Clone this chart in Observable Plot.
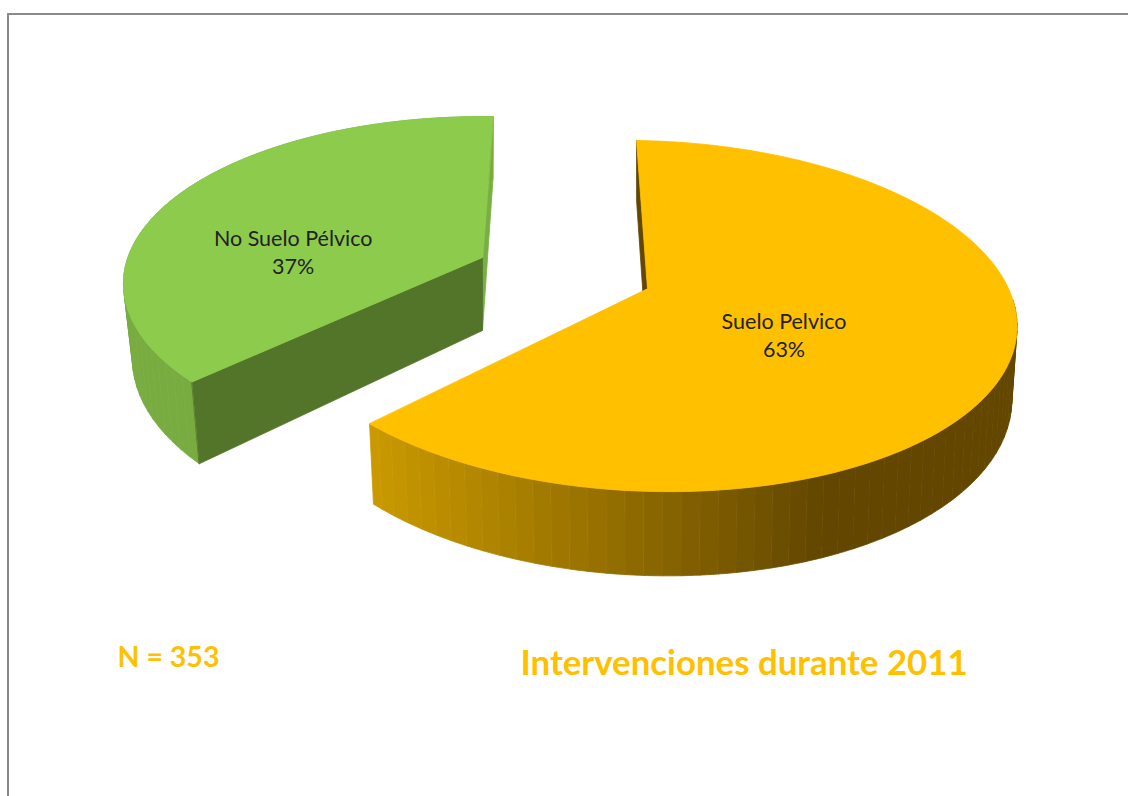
<!DOCTYPE html>
<html>
<head>
<meta charset="utf-8">
<script src="https://cdn.jsdelivr.net/npm/d3@7"></script>
<script src="https://cdn.jsdelivr.net/npm/@observablehq/plot@0.6"></script>
<style>
  html, body { margin: 0; padding: 0; background: #fff; overflow: hidden; }
  #frame { position: absolute; left: 7px; top: 13px; right: -4px; bottom: -4px;
           border-top: 2px solid #8a8a8a; border-left: 2px solid #8a8a8a; pointer-events: none; }
  #chart { position: absolute; left: 0; top: 0; }
  #chart svg { display: block; }
</style>
</head>
<body>
<div id="chart"></div>
<div id="frame"></div>
<script>
// Data
const categories = ["Suelo Pelvico", "No Suelo Pélvico"];
const shares = [63, 37];
const sampleLabel = "N = 353";
const titleLabel = "Intervenciones durante 2011";

// Drawing of each exploded, tilted slice
const geometry = [
  {cx: 647, cy: 288, a: 365, b: 171, k: 0.157, skew: 0.028, depth: 71, taper: 0.986, rotate: -2, startAdjust: 0, endAdjust: -2.5, labelR: 0.39, labelDy: 18},
  {cx: 482, cy: 257, a: 354.6, b: 163, k: 0.157, skew: 0, depth: 73, taper: 0.975, rotate: 2, startAdjust: -1.8, endAdjust: 0, labelR: 0.61, labelDy: 33}
];
const palette = [
  {top: "#ffc000", startFace: "#634700", endFace: null, wallLight: "#cb9a00", wallDark: "#634700"},
  {top: "#8dcb4d", startFace: "#527529", endFace: "#7aae42", wallLight: "#78ac40", wallDark: "#78ac40"}
];

const total = d3.sum(shares);
const rad = Math.PI / 180;
function project(g, theta, r = 1, down = false) {
  const t = (theta + g.rotate) * rad;
  const u = r * Math.sin(t), v = -r * Math.cos(t);
  const d = 1 - g.k * v;
  const x = g.a * u / d, y = g.b * v / d + g.skew * (g.a * u / d);
  if (!down) return [g.cx + x, g.cy + y];
  return [g.cx + x * g.taper, g.cy + y + g.depth / d];
}

// Slice angular spans come from the shares, clockwise from the top
let acc = 0;
const slices = shares.map((s, i) => {
  const g = geometry[i];
  const start = acc / total * 360 + g.startAdjust; acc += s;
  return {i, start, end: acc / total * 360 + g.endAdjust};
});

const polys = [];   // one row per vertex, z = polygon id, order = painter's order
let pid = 0;
function addPoly(points, color) {
  const z = pid++;
  points.forEach(([x, y]) => polys.push({x, y, z, color}));
}
function range(a, b, step) {
  const out = [];
  for (let t = a; t < b; t += step) out.push(t);
  out.push(b);
  return out;
}

// green first, orange on top
[slices[1], slices[0]].forEach(s => {
  const g = geometry[s.i], c = palette[s.i];
  const apex = project(g, 0, 0), apexDown = project(g, 0, 0, true);
  // far cut face (only the green slice shows it)
  if (c.endFace) addPoly([project(g, s.end), apex, apexDown, project(g, s.end, 1, true)], c.endFace);
  // outer wall in shaded bands, front half only
  const colorAt = d3.scaleLinear().domain([g.cx + 175, 368]).range([c.wallDark, c.wallLight]).clamp(true);
  const ts = range(s.start, s.end, 1);
  const bands = range(s.start, s.end, 2.5).filter(t => Math.cos((t + g.rotate) * rad) < 0.02 || t === s.end);
  d3.pairs(bands).forEach(([t0, t1]) => {
    const p0 = project(g, t0), p1 = project(g, t1);
    const arc = range(t0, t1, 0.7);
    addPoly([...arc.map(t => project(g, t)), ...arc.reverse().map(t => project(g, t, 1, true))],
      colorAt((p0[0] + p1[0]) / 2));
  });
  // near cut face
  addPoly([project(g, s.start), apex, apexDown, project(g, s.start, 1, true)], c.startFace);
  // top face
  addPoly([apex, ...ts.map(t => project(g, t))], c.top);
});

const pieLabels = slices.map(s => {
  const g = geometry[s.i];
  const [x, y] = project(g, (s.start + s.end) / 2, g.labelR);
  return {x, y: y + g.labelDy, text: `${categories[s.i]}\n${shares[s.i]}%`};
});

const plot = Plot.plot({
  width: 1128, height: 796,
  margin: 0,
  style: {background: "transparent", overflow: "visible"},
  x: {domain: [0, 1128], range: [0, 1128], axis: null},
  y: {domain: [0, 796], range: [0, 796], axis: null},
  color: {type: "identity"},
  marks: [
    Plot.line(polys, {x: "x", y: "y", z: "z", fill: "color", stroke: "color", strokeWidth: 0.8, curve: "linear-closed"}),
    Plot.text(pieLabels, {x: "x", y: "y", text: "text", fontFamily: "Lato", fontSize: 21.5, fill: "#222", lineHeight: 1.34, lineAnchor: "middle"}),
    Plot.text([{x: 117, y: 657, text: sampleLabel}], {x: "x", y: "y", text: "text", textAnchor: "start", fontFamily: "Lato", fontWeight: 700, fontSize: 28.5, fill: "#ffc000"}),
    Plot.text([{x: 520, y: 663, text: titleLabel}], {x: "x", y: "y", text: "text", textAnchor: "start", fontFamily: "Lato", fontWeight: 700, fontSize: 34.8, fill: "#ffc000"})
  ]
});
document.getElementById("chart").append(plot);
</script>
</body>
</html>
